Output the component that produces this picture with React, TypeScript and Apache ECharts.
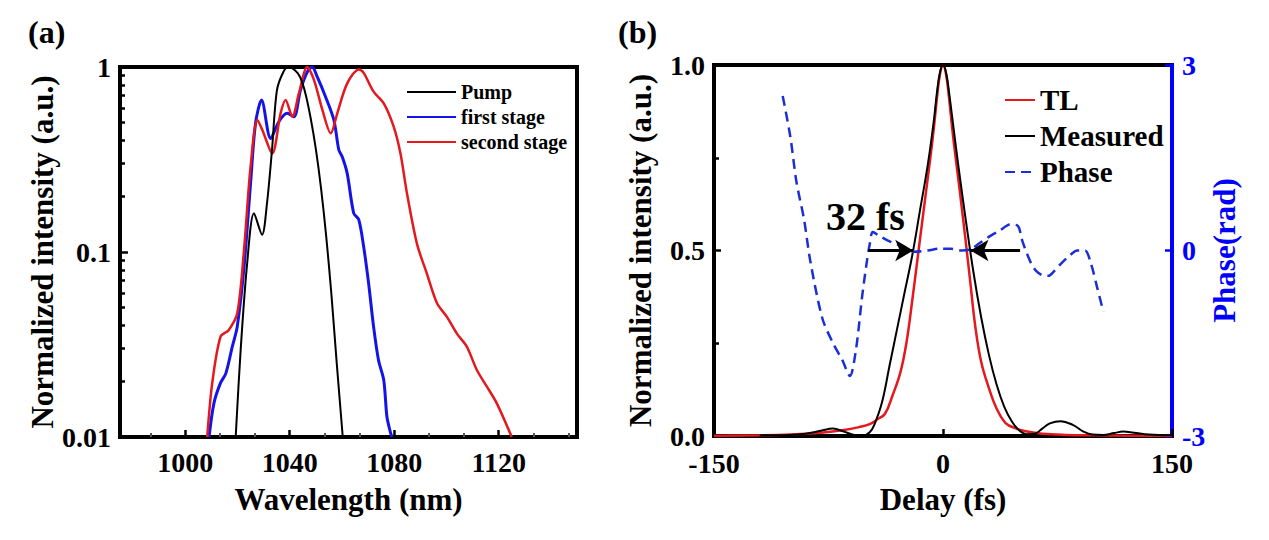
import React, { useEffect, useRef } from "react";
import * as echarts from "echarts";

const FONT = '"Liberation Serif", "Times New Roman", Times, serif';

// ---------- Panel (a): spectra ----------
const wlTicks = [1000, 1040, 1080, 1120];
const wlMinorTicks = [986.67, 1013.33, 1026.67, 1053.33, 1066.67, 1093.33, 1106.67, 1133.33, 1146.67];
const logMinorTicks = [0.02, 0.03, 0.04, 0.05, 0.06, 0.07, 0.08, 0.09, 0.2, 0.3, 0.4, 0.5, 0.6, 0.7, 0.8, 0.9];

const pumpWl = [1019.3, 1021.2, 1023.7, 1026.3, 1029.4, 1031.3, 1033.2, 1035.1, 1037.6, 1039.5, 1042, 1044, 1046, 1048, 1050, 1052, 1054, 1056, 1058, 1060.3];
const pumpVal = [0.01, 0.0295, 0.087, 0.162, 0.124, 0.184, 0.356, 0.75, 0.943, 1.0, 0.96, 0.88, 0.72, 0.53, 0.36, 0.22, 0.12, 0.058, 0.025, 0.01];

const firstWl = [1009.1, 1011, 1013.5, 1015.5, 1018, 1019.9, 1022.5, 1025, 1026.9, 1029.2, 1032.7, 1035.8, 1039, 1041.6, 1044.1, 1046.7, 1048.6, 1050.5, 1053.7, 1056.9, 1058.8, 1060.1, 1062, 1064.5, 1066.4, 1068.3, 1070.2, 1072.1, 1074, 1076, 1077.2, 1078.4, 1079.1];
const firstVal = [0.01, 0.0153, 0.0196, 0.022, 0.0308, 0.0395, 0.083, 0.235, 0.496, 0.663, 0.411, 0.506, 0.562, 0.539, 0.751, 0.94, 1.0, 0.886, 0.691, 0.517, 0.356, 0.327, 0.266, 0.162, 0.15, 0.107, 0.0677, 0.0395, 0.026, 0.0203, 0.0129, 0.0108, 0.01];

const secondWl = [1008.4, 1010.3, 1013.5, 1016.6, 1019.9, 1022.5, 1025, 1027.6, 1029.5, 1033.3, 1036.5, 1038.4, 1041, 1043.5, 1046.7, 1049.3, 1052.5, 1055.7, 1058.2, 1062, 1066.5, 1068.3, 1072.1, 1076, 1079.8, 1082.4, 1084.9, 1088.7, 1092.5, 1096.4, 1100.2, 1104, 1107.8, 1111.6, 1115.5, 1119.3, 1125];
const secondVal = [0.01, 0.0195, 0.0349, 0.0378, 0.0466, 0.103, 0.289, 0.517, 0.457, 0.341, 0.562, 0.663, 0.539, 0.72, 1.0, 0.85, 0.586, 0.438, 0.562, 0.816, 0.97, 0.93, 0.736, 0.636, 0.476, 0.341, 0.207, 0.111, 0.0765, 0.0528, 0.0446, 0.0362, 0.0308, 0.0231, 0.0187, 0.0152, 0.01];

// ---------- Panel (b): pulse ----------
const measDelay = [-120, -100, -90, -80, -72, -65, -58, -52, -48, -45, -40, -35, -30, -25, -20, -15, -10, -6, -4, -2, 0, 2, 4, 6, 10, 15, 20, 25, 30, 35, 40, 45, 50, 55, 60, 65, 70, 77, 85, 92, 98, 105, 112, 118, 125, 135, 150];
const measVal = [0.002, 0.003, 0.006, 0.014, 0.02, 0.012, 0.003, 0.002, 0.01, 0.03, 0.09, 0.19, 0.29, 0.39, 0.49, 0.61, 0.73, 0.85, 0.925, 0.98, 1.0, 0.98, 0.925, 0.86, 0.73, 0.58, 0.44, 0.32, 0.22, 0.14, 0.08, 0.04, 0.015, 0.005, 0.006, 0.02, 0.034, 0.04, 0.03, 0.012, 0.004, 0.003, 0.008, 0.012, 0.009, 0.004, 0.002];

const tlDelay = [-150, -120, -100, -80, -65, -55, -48, -43, -38, -33, -28, -24, -20, -16, -12, -8, -6, -4, -2, 0, 2, 4, 6, 8, 11, 15, 18, 21, 25, 30, 35, 41, 48, 55, 65, 80, 100, 130, 150];
const tlVal = [0.001, 0.002, 0.004, 0.009, 0.016, 0.024, 0.032, 0.045, 0.06, 0.11, 0.17, 0.25, 0.37, 0.5, 0.63, 0.76, 0.83, 0.91, 0.975, 1.0, 0.975, 0.91, 0.83, 0.76, 0.66, 0.52, 0.41, 0.3, 0.2, 0.13, 0.075, 0.035, 0.02, 0.012, 0.006, 0.003, 0.002, 0.001, 0.001];

const phaseDelay = [-105, -100, -96, -91, -87, -79, -72, -66, -61, -57, -53, -50, -48, -46, -42, -36, -30, -24, -19, -10, -2, 5, 12, 18, 24, 30, 37, 44, 49, 52, 55, 58, 61, 65, 69, 73, 77, 83, 88, 93, 97, 101, 105];
const phaseVal = [2.5, 1.84, 1.11, 0.5, -0.16, -1.1, -1.5, -1.77, -2.03, -1.6, -0.75, -0.2, 0.1, 0.3, 0.24, 0.16, 0.1, 0.04, -0.02, 0.0, 0.03, 0.03, 0.0, 0.02, 0.12, 0.22, 0.32, 0.42, 0.4, 0.15, -0.05, -0.22, -0.33, -0.4, -0.41, -0.33, -0.22, -0.08, 0.0, 0.0, -0.22, -0.6, -0.99];

const pairs = (xs: number[], ys: number[]) => xs.map((x, i) => [x, ys[i]]);

const BLACK = "#000000";
const RED = "#e3191e";
const BLUE = "#1414e6";
const AXIS_BLUE = "#0000ff";
const PHASE_BLUE = "#1a2fd6";

const labelStyle = { fontFamily: FONT, fontWeight: "bold" as const, fontSize: 28, color: BLACK };
const nameStyle = { fontFamily: FONT, fontWeight: "bold" as const, fontSize: 31, color: BLACK };
const noZero = { onZero: false };

export default function App() {
  const ref = useRef<HTMLDivElement>(null);
  useEffect(() => {
    const chart = echarts.init(ref.current!, null, { renderer: "svg" });
    const option: any = {
      animation: false,
      backgroundColor: "#ffffff",
      grid: [
        { left: 120, top: 67, width: 457, height: 370, show: true, borderColor: BLACK, borderWidth: 4, backgroundColor: "transparent" },
        { left: 714, top: 65, width: 458, height: 371, show: true, borderColor: BLACK, borderWidth: 4, backgroundColor: "transparent" },
      ],
      xAxis: [
        {
          gridIndex: 0, type: "value", min: 975, max: 1150, position: "bottom",
          axisLine: { show: true, ...noZero, lineStyle: { color: BLACK, width: 4 } },
          axisTick: { show: true, inside: true, length: 7, lineStyle: { color: BLACK, width: 2.5 }, customValues: wlTicks },
          axisLabel: { ...labelStyle, margin: 11, customValues: wlTicks, formatter: (v: number) => String(v) },
          splitLine: { show: false },
          name: "Wavelength (nm)", nameLocation: "middle", nameGap: 47, nameTextStyle: nameStyle,
        },
        {
          gridIndex: 0, type: "value", min: 975, max: 1150, position: "bottom",
          axisLine: { show: false, ...noZero },
          axisTick: { show: true, inside: true, length: 4, lineStyle: { color: "#555", width: 2 }, customValues: wlMinorTicks },
          axisLabel: { show: false },
          splitLine: { show: false },
        },
        {
          gridIndex: 1, type: "value", min: -150, max: 150, interval: 150, position: "bottom",
          axisLine: { show: true, ...noZero, lineStyle: { color: BLACK, width: 4 } },
          axisTick: { show: true, inside: true, length: 7, lineStyle: { color: BLACK, width: 2.5 } },
          axisLabel: { ...labelStyle, margin: 13, formatter: (v: number) => String(v) },
          splitLine: { show: false },
          name: "Delay (fs)", nameLocation: "middle", nameGap: 48, nameTextStyle: nameStyle,
        },
      ],
      yAxis: [
        {
          gridIndex: 0, type: "log", logBase: 10, min: 0.01, max: 1, position: "left",
          axisLine: { show: true, ...noZero, lineStyle: { color: BLACK, width: 4 } },
          axisTick: { show: true, inside: true, length: 8, lineStyle: { color: BLACK, width: 2.5 } },
          axisLabel: { ...labelStyle, margin: 9, formatter: (v: number) => String(Number(v.toPrecision(1))) },
          splitLine: { show: false },
          minorTick: { show: false },
          name: "Normalized intensity (a.u.)", nameLocation: "middle", nameGap: 55, nameTextStyle: nameStyle,
        },
        {
          gridIndex: 0, type: "log", logBase: 10, min: 0.01, max: 1, position: "left",
          axisLine: { show: false, ...noZero },
          axisTick: { show: true, inside: true, length: 5, lineStyle: { color: BLACK, width: 2.5 }, customValues: logMinorTicks },
          axisLabel: { show: false },
          splitLine: { show: false },
        },
        {
          gridIndex: 1, type: "value", min: 0, max: 1, interval: 0.5, position: "left",
          axisLine: { show: true, ...noZero, lineStyle: { color: BLACK, width: 4 } },
          axisTick: { show: true, inside: true, length: 7, lineStyle: { color: BLACK, width: 2.5 } },
          minorTick: { show: true, splitNumber: 2, length: 5, lineStyle: { color: BLACK, width: 2.5 } },
          axisLabel: { ...labelStyle, margin: 9, formatter: (v: number) => v.toFixed(1) },
          splitLine: { show: false },
          name: "Normalized intensity (a.u.)", nameLocation: "middle", nameGap: 58, nameTextStyle: nameStyle,
        },
        {
          gridIndex: 1, type: "value", min: -3, max: 3, interval: 3, position: "right",
          axisLine: { show: true, ...noZero, lineStyle: { color: AXIS_BLUE, width: 4 } },
          axisTick: { show: true, inside: true, length: 7, lineStyle: { color: AXIS_BLUE, width: 2.5 } },
          axisLabel: { ...labelStyle, color: AXIS_BLUE, margin: 10 },
          splitLine: { show: false },
          name: "Phase(rad)", nameLocation: "middle", nameGap: 36,
          nameTextStyle: { ...nameStyle, color: AXIS_BLUE },
        },
      ],
      legend: [
        {
          data: ["Pump", "first stage", "second stage"],
          orient: "vertical", left: 401, top: 77, itemWidth: 49, itemHeight: 14, itemGap: 5,
          itemStyle: { opacity: 0 },
          textStyle: { fontFamily: FONT, fontWeight: "bold", fontSize: 20, color: BLACK, lineHeight: 20 },
          selectedMode: false,
        },
        {
          data: ["TL", "Measured", "Phase"],
          orient: "vertical", left: 999, top: 80, itemWidth: 30, itemHeight: 14, itemGap: 6,
          itemStyle: { opacity: 0 },
          textStyle: { fontFamily: FONT, fontWeight: "bold", fontSize: 29, color: BLACK, lineHeight: 30 },
          selectedMode: false,
        },
      ],
      graphic: [
        { type: "text", left: 28, top: 16, style: { text: "(a)", font: `bold 32px ${FONT}`, fill: BLACK } },
        { type: "text", left: 618, top: 16, style: { text: "(b)", font: `bold 32px ${FONT}`, fill: BLACK } },
        { type: "text", left: 826, top: 196, style: { text: "32 fs", font: `bold 40px ${FONT}`, fill: BLACK } },
      ],
      series: [
        {
          name: "first stage", type: "line", xAxisIndex: 0, yAxisIndex: 0, data: pairs(firstWl, firstVal),
          showSymbol: false, symbol: "none", smooth: 0.3, color: BLUE, lineStyle: { color: BLUE, width: 3 },
        },
        {
          name: "second stage", type: "line", xAxisIndex: 0, yAxisIndex: 0, data: pairs(secondWl, secondVal),
          showSymbol: false, symbol: "none", smooth: 0.3, color: RED, lineStyle: { color: RED, width: 2.5 },
        },
        {
          name: "Pump", type: "line", xAxisIndex: 0, yAxisIndex: 0, data: pairs(pumpWl, pumpVal),
          showSymbol: false, symbol: "none", smooth: 0.3, color: BLACK, lineStyle: { color: BLACK, width: 2 },
        },
        {
          name: "TL", type: "line", xAxisIndex: 2, yAxisIndex: 2, data: pairs(tlDelay, tlVal),
          showSymbol: false, symbol: "none", smooth: 0.4, color: RED, lineStyle: { color: RED, width: 2.5 },
        },
        {
          name: "Measured", type: "line", xAxisIndex: 2, yAxisIndex: 2, data: pairs(measDelay, measVal),
          showSymbol: false, symbol: "none", smooth: 0.4, color: BLACK, lineStyle: { color: BLACK, width: 2 },
          markLine: {
            silent: true, symbol: ["none", "arrow"], symbolSize: [16, 18],
            label: { show: false },
            lineStyle: { color: BLACK, width: 3, type: "solid" },
            data: [
              [{ coord: [-49, 0.5] }, { coord: [-19.5, 0.5] }],
              [{ coord: [50.5, 0.5] }, { coord: [18, 0.5] }],
            ],
          },
        },
        {
          name: "Phase", type: "line", xAxisIndex: 2, yAxisIndex: 3, data: pairs(phaseDelay, phaseVal),
          showSymbol: false, symbol: "none", smooth: 0.3, color: PHASE_BLUE,
          lineStyle: { color: PHASE_BLUE, width: 2.5, type: [10, 6] },
        },
      ],
    };
    chart.setOption(option);
    return () => chart.dispose();
  }, []);
  return <div ref={ref} style={{ position: "fixed", left: 0, top: 0, width: 1269, height: 540 }} />;
}
